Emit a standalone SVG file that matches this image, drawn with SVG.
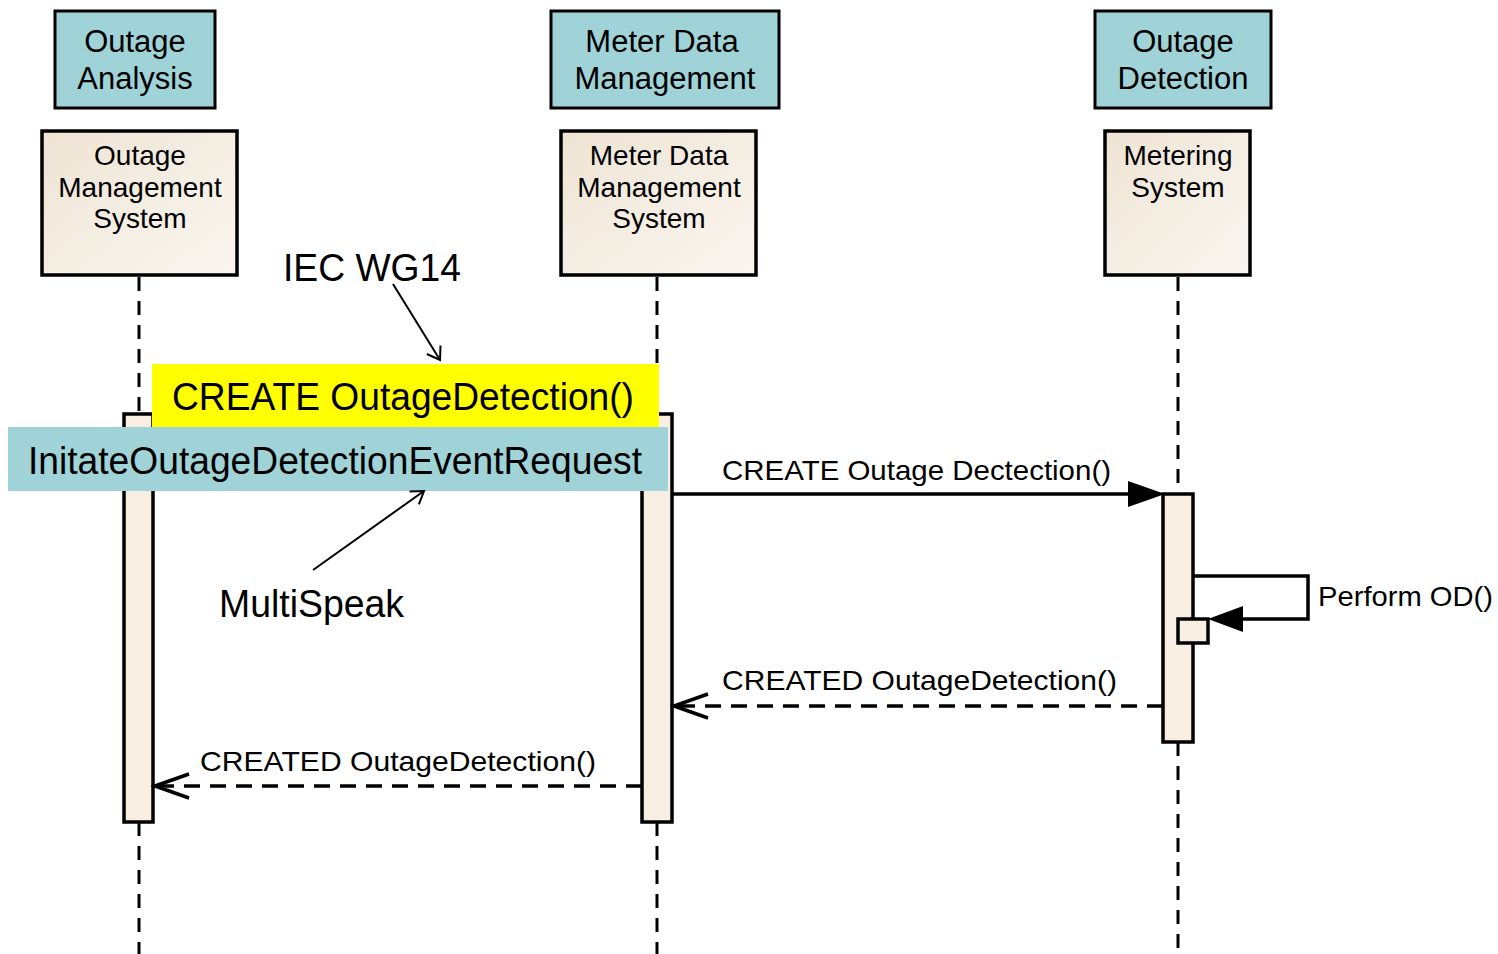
<svg xmlns="http://www.w3.org/2000/svg" width="1498" height="954" viewBox="0 0 1498 954">
<defs>
<linearGradient id="beige" x1="0" y1="0" x2="1" y2="1">
<stop offset="0" stop-color="#EEE4D4"/>
<stop offset="1" stop-color="#FAF6F0"/>
</linearGradient>
<marker id="open" markerWidth="40" markerHeight="30" refX="36" refY="15" orient="auto" markerUnits="userSpaceOnUse">
<path d="M2,3 L36,15 L2,27" fill="none" stroke="#000" stroke-width="3.5"/>
</marker>
<marker id="open2" markerWidth="20" markerHeight="20" refX="16" refY="10" orient="auto" markerUnits="userSpaceOnUse">
<path d="M4,2 L16,10 L4,18" fill="none" stroke="#000" stroke-width="2"/>
</marker>
</defs>
<style>
.role{fill:#9FD3D7;stroke:#000;stroke-width:3}
.head{fill:url(#beige);stroke:#000;stroke-width:3.5}
.bar{fill:#F9EEE2;stroke:#000;stroke-width:3.5}
.life{stroke:#000;stroke-width:3;stroke-dasharray:14 10;fill:none}
.ret{stroke:#000;stroke-width:3.5;stroke-dasharray:16 10;fill:none}
.msg{stroke:#000;stroke-width:3.5;fill:none}
.t32{font-family:"Liberation Sans",Arial,sans-serif;font-size:31px;fill:#000;text-anchor:middle}
.t28{font-family:"Liberation Sans",Arial,sans-serif;font-size:28px;fill:#000;text-anchor:middle}
.lbl{font-family:"Liberation Sans",Arial,sans-serif;font-size:28px;fill:#000}
.big{font-family:"Liberation Sans",Arial,sans-serif;font-size:38px;fill:#000}
</style>

<g id="connectors">
<line class="life" x1="139" y1="277" x2="139" y2="414"/>
<line class="life" x1="139" y1="822" x2="139" y2="954"/>
<line class="life" x1="657" y1="277" x2="657" y2="414"/>
<line class="life" x1="657" y1="822" x2="657" y2="954"/>
<line class="life" x1="1178" y1="277" x2="1178" y2="494"/>
<line class="life" x1="1178" y1="742" x2="1178" y2="954"/>
</g>

<g id="bar-oms"><rect class="bar" x="124" y="414" width="29" height="408"/></g>
<g id="bar-mdms"><rect class="bar" x="642" y="414" width="30" height="408"/></g>
<g id="bar-ms"><rect class="bar" x="1163" y="494" width="30" height="248"/></g>
<g id="bar-ms-self"><rect class="bar" x="1178" y="619" width="30" height="24"/></g>

<g id="messages">
<line class="msg" x1="672" y1="494" x2="1130" y2="494"/>
<path d="M1128,481 L1165,494 L1128,507 Z" fill="#000"/>
<text class="lbl" x="722" y="480" textLength="389" lengthAdjust="spacingAndGlyphs">CREATE Outage Dectection()</text>

<polyline class="msg" points="1193,576 1308,576 1308,619 1240,619"/>
<path d="M1243,606 L1208,619 L1243,632 Z" fill="#000"/>
<text class="lbl" x="1318" y="606" textLength="175" lengthAdjust="spacingAndGlyphs">Perform OD()</text>

<line class="ret" x1="1163" y1="706" x2="674" y2="706" marker-end="url(#open)"/>
<text class="lbl" x="722" y="690" textLength="395" lengthAdjust="spacingAndGlyphs">CREATED OutageDetection()</text>

<line class="ret" x1="642" y1="786" x2="155" y2="786" marker-end="url(#open)"/>
<text class="lbl" x="200" y="771" textLength="396" lengthAdjust="spacingAndGlyphs">CREATED OutageDetection()</text>
</g>

<g id="role-outage-analysis">
<rect class="role" x="55" y="11" width="160" height="97"/>
<text class="t32" x="135" y="52">Outage</text>
<text class="t32" x="135" y="89">Analysis</text>
</g>
<g id="role-mdm">
<rect class="role" x="551" y="11" width="228" height="97"/>
<text class="t32" x="662" y="52">Meter Data</text>
<text class="t32" x="665" y="89">Management</text>
</g>
<g id="role-outage-detection">
<rect class="role" x="1095" y="11" width="176" height="97"/>
<text class="t32" x="1183" y="52">Outage</text>
<text class="t32" x="1183" y="89">Detection</text>
</g>

<g id="oms">
<rect class="head" x="42" y="131" width="195" height="144"/>
<text class="t28" x="140" y="165">Outage</text>
<text class="t28" x="140" y="197">Management</text>
<text class="t28" x="140" y="228">System</text>
</g>
<g id="mdms">
<rect class="head" x="561" y="131" width="195" height="144"/>
<text class="t28" x="659" y="165">Meter Data</text>
<text class="t28" x="659" y="197">Management</text>
<text class="t28" x="659" y="228">System</text>
</g>
<g id="ms">
<rect class="head" x="1105" y="131" width="145" height="144"/>
<text class="t28" x="1178" y="165">Metering</text>
<text class="t28" x="1178" y="197">System</text>
</g>

<g id="iec-annotation">
<rect x="152" y="364" width="507" height="63" fill="#FFFF00"/>
<text class="big" x="172" y="410" textLength="462" lengthAdjust="spacingAndGlyphs">CREATE OutageDetection()</text>
</g>
<g id="multispeak-annotation">
<rect x="8" y="427" width="660" height="64" fill="#9FD3D7"/>
<text class="big" x="28" y="474" textLength="614" lengthAdjust="spacingAndGlyphs">InitateOutageDetectionEventRequest</text>
</g>

<g id="iec-label">
<text class="big" x="283" y="281" textLength="178" lengthAdjust="spacingAndGlyphs">IEC WG14</text>
</g>
<g id="multispeak-label">
<text class="big" x="219" y="617" textLength="185" lengthAdjust="spacingAndGlyphs">MultiSpeak</text>
</g>
<g id="annotation-arrows">
<line x1="393" y1="284" x2="440" y2="360" stroke="#000" stroke-width="2" marker-end="url(#open2)"/>
<line x1="313" y1="570" x2="424" y2="491" stroke="#000" stroke-width="2" marker-end="url(#open2)"/>
</g>
</svg>
